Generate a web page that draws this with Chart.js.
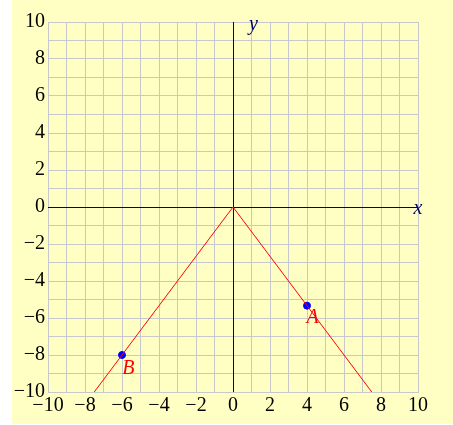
<!DOCTYPE html>
<html lang="en">
<head>
<meta charset="UTF-8">
<title>y = -4/3 |x|</title>
<style>
  body { margin: 0; background: #fff; }
  #wrap { position: absolute; left: 12px; top: 0; width: 441px; height: 424px; background: #ffffc4; }
</style>
</head>
<body>
<div id="wrap"><canvas id="chart" width="441" height="424"></canvas></div>
<script src="https://cdn.jsdelivr.net/npm/chart.js"></script>
<script>
// red graph, points A and B, and the text labels
const lineX = [-7.5, 0, 7.5];
const lineY = [-10, 0, -10];
const pointX = [4, -6];
const pointY = [-16 / 3, -8];
const noteText = ['A', 'B', 'x', 'y'];
const noteX = [4.3, -5.65, 10, 1.1];
const noteY = [-6.0, -8.73, -0.1, 9.85];
const axisMin = -10;
const axisMax = 10;

const serif = "'Times New Roman', 'Liberation Serif', serif";
const gridGray = '#c8c8cc';
const navy = '#000066';

function tickLabel(v) {
    if (v % 2 !== 0) return '';
    return String(v).replace('-', '\u2212');
}

const zeroAxes = {
    id: 'zeroAxes',
    beforeDatasetsDraw(chart) {
        const { ctx, scales: { x, y }, chartArea: a } = chart;
        const x0 = Math.round(x.getPixelForValue(0)) + 0.5;
        const y0 = Math.round(y.getPixelForValue(0)) + 0.5;
        ctx.save();
        ctx.strokeStyle = navy;
        ctx.lineWidth = 1;
        ctx.beginPath();
        ctx.moveTo(a.left, y0); ctx.lineTo(a.right, y0);
        ctx.moveTo(x0, a.top); ctx.lineTo(x0, a.bottom);
        ctx.stroke();
        ctx.restore();
    }
};

const notes = {
    id: 'notes',
    afterDatasetsDraw(chart) {
        const { ctx, scales: { x, y } } = chart;
        ctx.save();
        ctx.font = 'italic 20px ' + serif;
        ctx.textAlign = 'center';
        ctx.textBaseline = 'middle';
        noteText.forEach((t, i) => {
            ctx.fillStyle = i < 2 ? '#ff0000' : navy;
            ctx.fillText(t, x.getPixelForValue(noteX[i]), y.getPixelForValue(noteY[i]));
        });
        ctx.restore();
    }
};

const scaleOpts = (pos) => ({
    type: 'linear',
    position: pos,
    min: axisMin,
    max: axisMax,
    grid: { color: gridGray, lineWidth: 1, drawTicks: false },
    border: { color: gridGray },
    ticks: {
        stepSize: 1,
        autoSkip: false,
        maxRotation: 0,
        padding: pos === 'left' ? 3 : 2,
        color: '#000',
        font: { family: serif, size: 20 },
        callback: tickLabel
    },
    afterFit(scale) {
        if (pos === 'left') scale.width = 36;
        else scale.height = 32;
    }
});

new Chart(document.getElementById('chart'), {
    type: 'scatter',
    data: {
        datasets: [
            {
                type: 'line',
                data: lineX.map((v, i) => ({ x: v, y: lineY[i] })),
                borderColor: '#ff0000',
                borderWidth: 1,
                pointRadius: 0,
                fill: false,
                tension: 0
            },
            {
                data: pointX.map((v, i) => ({ x: v, y: pointY[i] })),
                backgroundColor: '#0000ff',
                borderColor: '#0000ff',
                pointRadius: 3.5
            }
        ]
    },
    options: {
        responsive: false,
        animation: false,
        layout: { padding: { top: 22, right: 35, left: 0, bottom: 0 } },
        plugins: { legend: { display: false }, tooltip: { enabled: false } },
        scales: { x: scaleOpts('bottom'), y: scaleOpts('left') }
    },
    plugins: [zeroAxes, notes]
});
</script>
</body>
</html>
